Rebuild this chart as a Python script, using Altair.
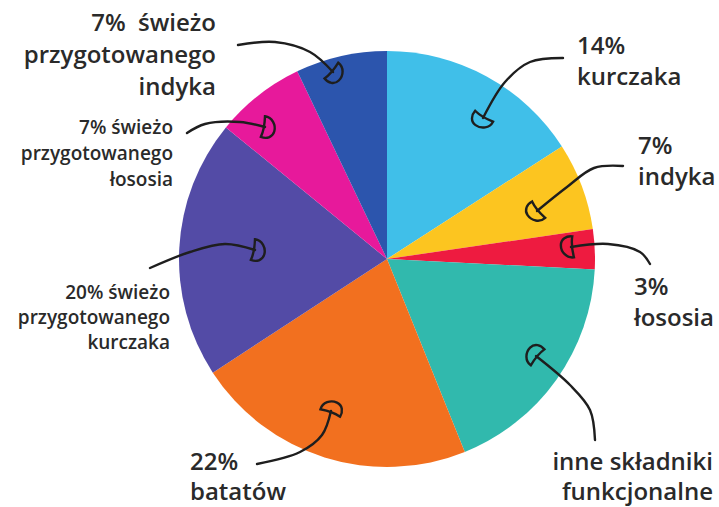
import math
import altair as alt
import pandas as pd

# ---- data ----
categories = [
    "kurczak", "indyk", "łosoś", "inne składniki funkcjonalne",
    "bataty", "świeży kurczak", "świeży łosoś", "świeży indyk",
]
shares = [15.9, 6.8, 3.1, 18.1, 21.9, 20.1, 7.0, 7.1]
colors = ["#40BFE9", "#FCC520", "#EE1B40", "#31B9AD",
          "#F2701F", "#534BA6", "#E7199B", "#2C55AD"]
label_lines = [
    ["14%", "kurczaka"],
    ["7%", "indyka"],
    ["3%", "łososia"],
    ["inne składniki", "funkcjonalne"],
    ["22%", "batatów"],
    ["20% świeżo", "przygotowanego", "kurczaka"],
    ["7% świeżo", "przygotowanego", "łososia"],
    ["7%\u00a0\u00a0świeżo", "przygotowanego", "indyka"],
]

# ---- layout (pixel space) ----
W, H = 719, 507
CX, CY, R = 387, 259, 208
# label anchor: x, first-line y, align, font size, line height
label_layout = [
    (577, 47, "left", 24, 31),
    (638, 147, "left", 24, 31),
    (634, 288, "left", 24, 31),
    (713, 463, "right", 24, 30),
    (190, 463, "left", 24, 30),
    (170, 293, "right", 19, 25),
    (173, 128, "right", 19, 26),
    (216, 24, "right", 24, 32),
]
arrow_paths = [
    [(563, 58), (530, 62), (505, 82), (483, 118)],
    [(623, 166), (594, 168), (567, 187), (537, 211)],
    [(650, 264), (640, 252), (608, 244), (571, 247)],
    [(595, 440), (590, 410), (570, 385), (536, 356)],
    [(257, 464), (300, 452), (322, 435), (331, 411)],
    [(150, 268), (190, 252), (225, 244), (255, 250)],
    [(187, 133), (205, 124), (240, 122), (265, 127)],
    [(238, 45), (275, 42), (310, 52), (333, 72)],
]

pie_df = pd.DataFrame({"cat": categories, "share": shares,
                       "idx": list(range(len(categories)))})

rows = []
for k, lines in enumerate(label_lines):
    x, y0, align, fs, lh = label_layout[k]
    for j, t in enumerate(lines):
        rows.append({"x": x, "y": y0 + j * lh, "t": t, "align": align, "fs": fs})
txt_df = pd.DataFrame(rows)

arr_rows, head_rows = [], []
for k, pts in enumerate(arrow_paths):
    for i, (x, y) in enumerate(pts):
        arr_rows.append({"a": k, "i": i, "x": x, "y": y})
    (x1, y1), (x2, y2) = pts[-2], pts[-1]
    ang = math.degrees(math.atan2(x2 - x1, -(y2 - y1))) % 360
    head_rows.append({"a": k, "x": x2, "y": y2, "ang": ang})
arr_df = pd.DataFrame(arr_rows)
head_df = pd.DataFrame(head_rows)

xs = alt.X("x:Q", scale=alt.Scale(domain=[0, W]), axis=None)
ys = alt.Y("y:Q", scale=alt.Scale(domain=[0, H], reverse=True), axis=None)

pie = alt.Chart(pie_df).mark_arc(stroke=None).encode(
    theta=alt.Theta("share:Q", stack=True),
    order=alt.Order("idx:Q"),
    color=alt.Color("cat:N", scale=alt.Scale(domain=categories, range=colors), legend=None),
    x=alt.value(CX), y=alt.value(CY), radius=alt.value(R),
)

FONT = "Open Sans"
txt_left = alt.Chart(txt_df).transform_filter(alt.datum.align == "left").mark_text(
    align="left", baseline="middle", font=FONT, fontWeight=600, color="#2a2a2a"
).encode(x=xs, y=ys, text="t:N", size=alt.Size("fs:Q", scale=None))
txt_right = alt.Chart(txt_df).transform_filter(alt.datum.align == "right").mark_text(
    align="right", baseline="middle", font=FONT, fontWeight=600, color="#2a2a2a"
).encode(x=xs, y=ys, text="t:N", size=alt.Size("fs:Q", scale=None))

lines = alt.Chart(arr_df).mark_line(
    interpolate="catmull-rom", color="#1e1e1e", strokeWidth=2.4, strokeCap="round"
).encode(x=xs, y=ys, detail="a:N", order="i:Q")

CAP = ("M-1,0.2 C-1.05,-0.5 -0.4,-1.0 0.25,-0.95 "
       "C0.85,-0.9 1.1,-0.35 1,0.2 C0.4,0.05 -0.4,0.1 -1,0.2 Z")
heads = alt.Chart(head_df).mark_point(
    shape=CAP, filled=False, color="#1e1e1e", strokeWidth=2.4, size=440, opacity=1
).encode(x=xs, y=ys, angle=alt.Angle("ang:Q", scale=None))

chart = alt.layer(pie, lines, heads, txt_left, txt_right).properties(
    width=W, height=H, padding=0, autosize=alt.AutoSizeParams(type="none")
).configure_view(stroke=None)

chart.save("out.html", embed_options={"renderer": "svg", "actions": False})
